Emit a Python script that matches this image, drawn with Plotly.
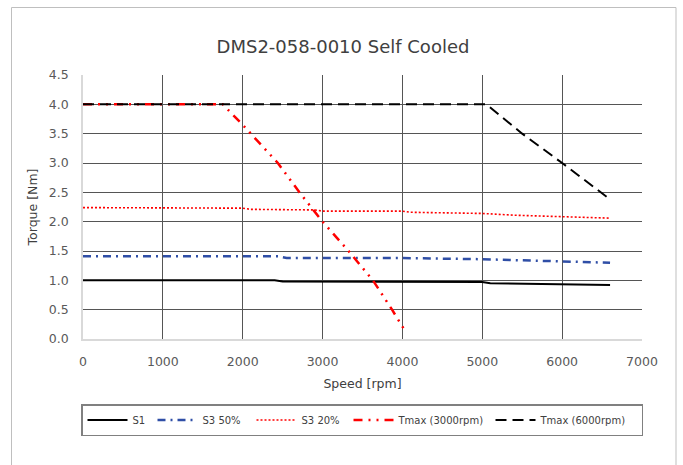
import plotly.graph_objects as go

# ---- data ----
s1_speed = [0, 2400, 2500, 4000, 5000, 5100, 5900, 6000, 6600]
s1_torque = [1.00, 1.00, 0.98, 0.98, 0.97, 0.95, 0.94, 0.93, 0.92]

s3_50_speed = [0, 2450, 2550, 4000, 5000, 5800, 6600]
s3_50_torque = [1.41, 1.41, 1.38, 1.38, 1.36, 1.33, 1.30]

s3_20_speed = [0, 2000, 2100, 2900, 3000, 4000, 4100, 4800, 5000, 5400, 6000, 6600]
s3_20_torque = [2.24, 2.23, 2.21, 2.20, 2.18, 2.18, 2.16, 2.15, 2.14, 2.11, 2.09, 2.06]

tmax3000_speed = [0, 1750, 2000, 2440, 2710, 3000, 3325, 3630, 3870, 4050]
tmax3000_torque = [4.0, 4.0, 3.65, 3.0, 2.5, 2.0, 1.5, 1.0, 0.5, 0.1]

tmax6000_speed = [0, 5050, 5500, 6000, 6600]
tmax6000_torque = [4.0, 4.0, 3.5, 3.0, 2.38]

x_ticks = [0, 1000, 2000, 3000, 4000, 5000, 6000, 7000]
y_ticks = [0.0, 0.5, 1.0, 1.5, 2.0, 2.5, 3.0, 3.5, 4.0, 4.5]

title_text = "DMS2-058-0010 Self Cooled"
x_title = "Speed [rpm]"
y_title = "Torque [Nm]"

FONT = "DejaVu Sans"

fig = go.Figure()
fig.add_trace(go.Scatter(x=s1_speed, y=s1_torque, mode="lines", name="S1",
                         line=dict(color="#000000", width=2), legendwidth=15))
fig.add_trace(go.Scatter(x=s3_50_speed, y=s3_50_torque, mode="lines", name="S3 50%",
                         line=dict(color="#2F4EA6", width=2.5, dash="8px,5px,2px,5px"),
                         legendwidth=44))
fig.add_trace(go.Scatter(x=s3_20_speed, y=s3_20_torque, mode="lines", name="S3 20%",
                         line=dict(color="#FF0000", width=1.6, dash="2px,2px"),
                         legendwidth=42))
fig.add_trace(go.Scatter(x=tmax3000_speed, y=tmax3000_torque, mode="lines", name="Tmax (3000rpm)",
                         line=dict(color="#FF0000", width=2.5, dash="9px,6px,2px,6px,2px,6px"),
                         legendwidth=87))
fig.add_trace(go.Scatter(x=tmax6000_speed, y=tmax6000_torque, mode="lines", name="Tmax (6000rpm)",
                         line=dict(color="#000000", width=2, dash="11px,6px"),
                         legendwidth=96))

L, R, T, B = 83, 41, 75, 126
W, H = 683, 465
pw, ph = W - L - R, H - T - B

def px_x(px):
    return (px - L) / pw

def px_y(py):
    return (H - B - py) / ph

axis_common = dict(showgrid=True, gridcolor="#555555", gridwidth=1.3, zeroline=False,
                   showline=True, linecolor="#d9d9d9", linewidth=1.6, mirror=False,
                   ticks="", ticklabelstandoff=10,
                   tickfont=dict(family=FONT, size=12.5, color="#595959"))

fig.update_layout(
    width=W, height=H,
    margin=dict(l=L, r=R, t=T, b=B, pad=0),
    paper_bgcolor="white", plot_bgcolor="white",
    font=dict(family=FONT, color="#595959", size=12.5),
    title=dict(text=title_text, x=px_x(343), xanchor="center", xref="paper",
               y=1 - 47 / H, yanchor="middle",
               font=dict(family=FONT, size=18, color="#404040")),
    showlegend=True,
    legend=dict(orientation="h", x=px_x(81), xanchor="left", y=px_y(404), yanchor="top",
                bordercolor="#808080", borderwidth=1.5, bgcolor="white",
                font=dict(family=FONT, size=10, color="#404040"),
                itemwidth=40, tracegroupgap=0),
    xaxis=dict(range=[0, 7000], tickvals=x_ticks,
               title=dict(text=x_title, standoff=11,
                          font=dict(family=FONT, size=12.5, color="#404040")),
               **axis_common),
    yaxis=dict(range=[0, 4.5], tickvals=y_ticks, tickformat=".1f",
               title=dict(text=y_title, standoff=8,
                          font=dict(family=FONT, size=12.5, color="#404040")),
               **axis_common),
    shapes=[dict(type="rect", xref="paper", yref="paper",
                 x0=px_x(11.5), x1=px_x(676), y0=px_y(7.5), y1=px_y(500),
                 line=dict(color="#bfbfbf", width=1), fillcolor="rgba(0,0,0,0)", layer="below")],
)

fig.write_html("out.html", config={"displayModeBar": False},
               post_script="document.body.style.margin='0';document.body.style.padding='0';")
